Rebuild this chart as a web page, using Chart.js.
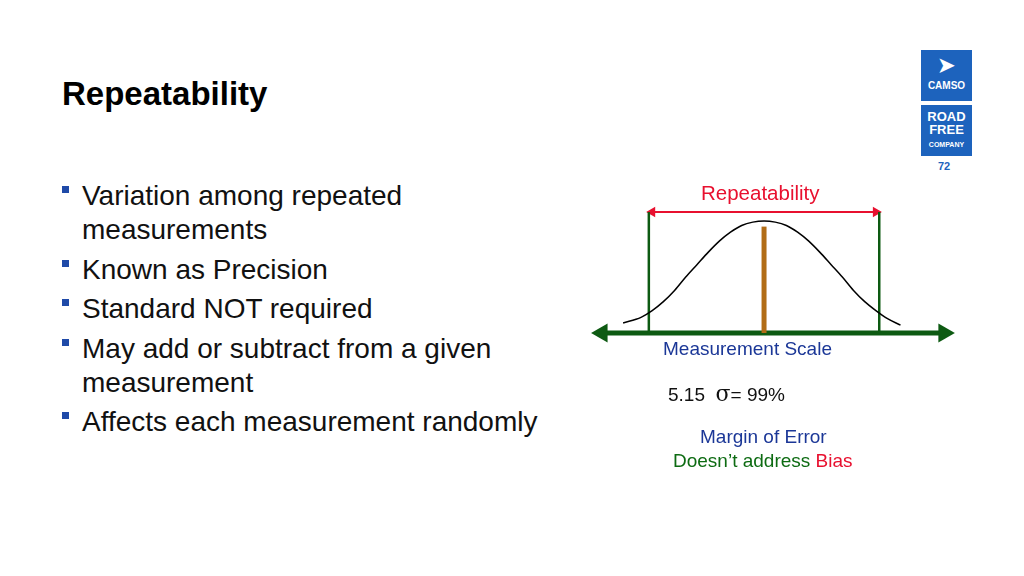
<!DOCTYPE html>
<html><head><meta charset="utf-8">
<script src="https://cdn.jsdelivr.net/npm/chart.js@4"></script>
<style>
body{margin:0;width:1024px;height:576px;background:#fff;font-family:"Liberation Sans",Arial,sans-serif;position:relative;overflow:hidden}
.t{position:absolute;white-space:nowrap}
#title{left:62px;top:75px;font-size:33px;font-weight:bold;color:#000}
ul{position:absolute;left:62px;top:179px;margin:0;padding:0;list-style:none;font-size:28px;line-height:34px;color:#111}
li{position:relative;padding-left:20px;margin-bottom:5.5px}
li:before{content:"";position:absolute;left:0;top:7px;width:7px;height:7px;background:#1f4aa8}
.logo{position:absolute;left:921px;width:51px;background:#1d63bd;color:#fff;font-weight:bold;text-align:center}
#wrap{position:absolute;left:590px;top:200px;width:370px;height:145px}
</style></head><body>
<div id="title" class="t">Repeatability</div>
<ul>
<li>Variation among repeated<br>measurements</li>
<li>Known as Precision</li>
<li>Standard NOT required</li>
<li>May add or subtract from a given<br>measurement</li>
<li>Affects each measurement randomly</li>
</ul>
<div class="logo" style="top:50px;height:51px;"><div style="font-size:20px;line-height:30px">&#10148;</div><div style="font-size:10px;line-height:12px">CAMSO</div></div>
<div class="logo" style="top:105px;height:51px;font-size:13px;line-height:13px;padding-top:5px;box-sizing:border-box">ROAD<br>FREE<br><span style="font-size:7px;line-height:9px">COMPANY</span></div>
<div class="t" style="left:938px;top:160px;font-size:11px;font-weight:bold;color:#1d63bd">72</div>

<div id="wrap"><canvas id="c"></canvas></div>

<div class="t" style="left:701px;top:181px;font-size:20.5px;color:#e8102f">Repeatability</div>
<div class="t" style="left:663px;top:338px;font-size:19px;color:#1b3797">Measurement Scale</div>
<div class="t" style="left:668px;top:381px;font-size:19px;color:#111">5.15 &nbsp;<span style="font-size:22px;font-family:'DejaVu Serif'">σ</span>= 99%</div>
<div class="t" style="left:700px;top:426px;font-size:19px;color:#1b3797">Margin of Error</div>
<div class="t" style="left:673px;top:450px;font-size:19px;color:#0d6b12">Doesn’t address <span style="color:#e8102f">Bias</span></div>

<script>
const curveX = [-3.15,-2.75,-2.5,-2.25,-2,-1.75,-1.5,-1.25,-1,-0.75,-0.5,-0.25,0,0.25,0.5,0.75,1,1.25,1.5,1.75,2,2.25,2.5,2.75,3.05];
const curveY = [0.09,0.14,0.2,0.28,0.38,0.5,0.61,0.72,0.82,0.9,0.96,0.99,1.0,0.99,0.96,0.9,0.82,0.72,0.61,0.5,0.38,0.28,0.2,0.13,0.07];
const limits = [-2.575, 2.575];
const limitTop = 1.08;
const meanTop = 0.95;
const scaleEnds = [-3.62, 4.02];
const repeatEnds = [-2.5, 2.5];

new Chart(document.getElementById('c'), {
  type: 'scatter',
  data: { datasets: [
    { data: curveX.map((x,i)=>({x, y: curveY[i]})), showLine:true, borderColor:'#000', borderWidth:1.5, pointRadius:0, cubicInterpolationMode:'monotone' },
    { data: [{x:limits[0],y:0},{x:limits[0],y:limitTop}], showLine:true, borderColor:'#0d5a12', borderWidth:2.5, pointRadius:0 },
    { data: [{x:limits[1],y:0},{x:limits[1],y:limitTop}], showLine:true, borderColor:'#0d5a12', borderWidth:2.5, pointRadius:0 },
    { data: [{x:0,y:0},{x:0,y:meanTop}], showLine:true, borderColor:'#b26d17', borderWidth:5, pointRadius:0 },
    { data: [{x:scaleEnds[0],y:0},{x:scaleEnds[1],y:0}], showLine:true, borderColor:'#0d5a12', borderWidth:5,
      pointStyle:'triangle', pointRadius:11, pointRotation:[-90,90], backgroundColor:'#0d5a12', pointBorderWidth:0 },
    { data: [{x:repeatEnds[0],y:limitTop},{x:repeatEnds[1],y:limitTop}], showLine:true, borderColor:'#e8102f', borderWidth:2,
      pointStyle:'triangle', pointRadius:6, pointRotation:[-90,90], backgroundColor:'#e8102f', pointBorderWidth:0 }
  ]},
  options: {
    responsive:true, maintainAspectRatio:false, animation:false,
    layout:{padding:0, autoPadding:false},
    plugins:{legend:{display:false}, tooltip:{enabled:false}},
    scales:{
      x:{type:'linear', min:-3.89, max:4.38, display:false},
      y:{min:-0.107, max:1.1875, display:false}
    }
  }
});
</script>
</body></html>
